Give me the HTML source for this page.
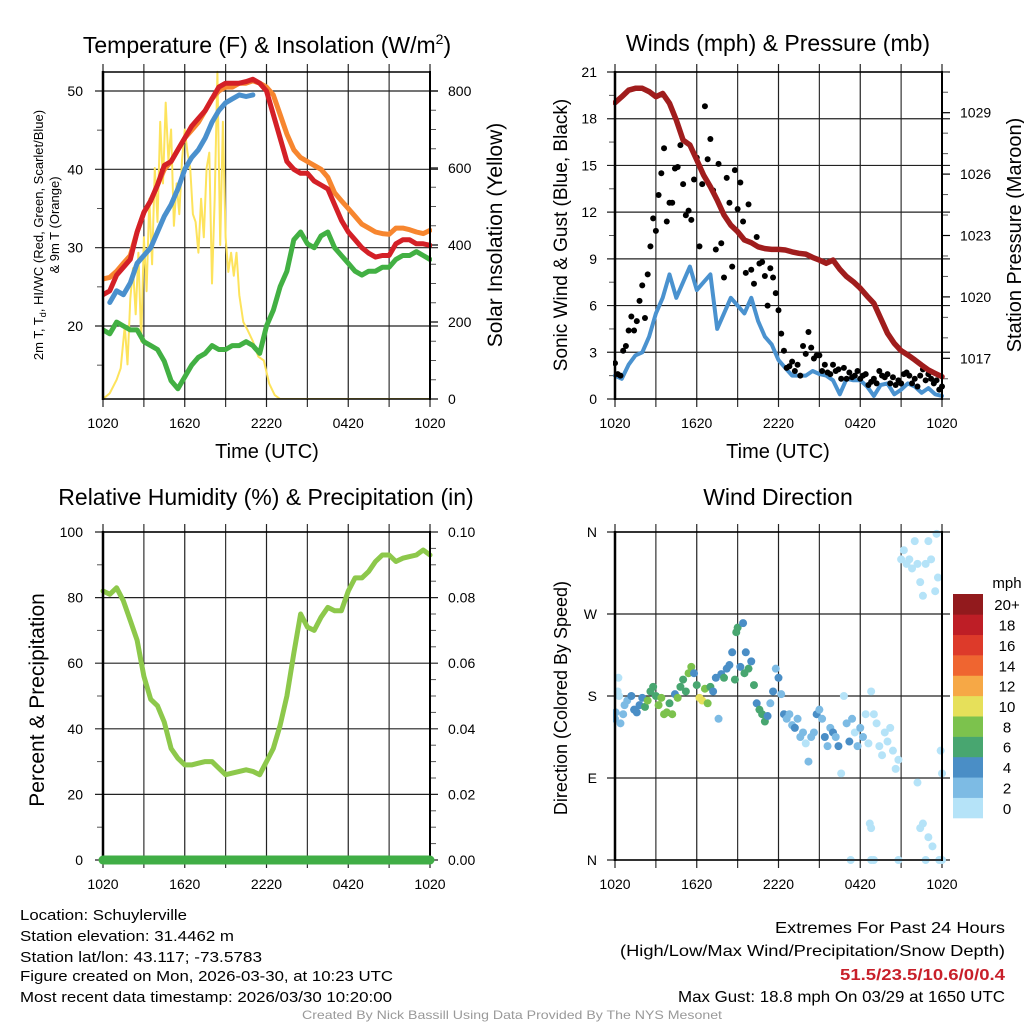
<!DOCTYPE html>
<html><head><meta charset="utf-8"><style>
html,body{margin:0;padding:0;background:#fff;}
svg{display:block;font-family:"Liberation Sans",sans-serif;}
</style></head><body>
<svg id="chart" width="1024" height="1024" viewBox="0 0 1024 1024" xmlns="http://www.w3.org/2000/svg"></svg>
<script>
// ---------- DATA ----------
const halfHours = [0,0.5,1,1.5,2,2.5,3,3.5,4,4.5,5,5.5,6,6.5,7,7.5,8,8.5,9,9.5,10,10.5,11,11.5,12,12.5,13,13.5,14,14.5,15,15.5,16,16.5,17,17.5,18,18.5,19,19.5,20,20.5,21,21.5,22,22.5,23,23.5,24];
const tempRed = [24,24.5,26.5,27.5,28.5,32,34.5,36,38,40.5,41,42.5,44,45.5,46.5,47.5,49,50.5,51,51,51,51.2,51.5,51,50,47,44,41,40,39.5,39.5,38.5,38,37.5,35.5,33.5,32,31,30,29.3,28.8,29,29,30.5,31,31,30.5,30.5,30.3];
const tempOrange = [26,26.2,27,28,29,32,34.5,36,38,40,41,42.5,44,45,46,47.5,49,50,50.5,50.5,51,51,51.3,51,50.5,49.5,47,44.5,42.5,41.5,41,40.5,40,39,37,36,35,34,33,32.5,32,31.8,31.7,32.5,32.5,32.3,32,31.8,32.2];
const tempBlue = [null,23,24.5,24,25.5,28,29,30,32,34,35.5,37.5,40,41.5,42.5,44,46,47.5,48.5,49,49.5,49.3,49.5,null,null,null,null,null,null,null,null,null,null,null,null,null,null,null,null,null,null,null,null,null,null,null,null,null,null];
const dewGreen = [19.5,19,20.5,20,19.5,19.5,18,17.5,17,15.5,13,12,13.5,15,16,16.5,17.5,17,17,17.5,17.5,18,17.5,16.5,20,22,25,27,31,32,30.5,30,31.5,32,30,29,28,27,26.5,27,27,27.5,27.5,28.5,29,29,29.5,29,28.5];
const solarHours = [0,0.5,1,1.3,1.6,1.8,2.0,2.2,2.4,2.6,2.8,3.0,3.2,3.4,3.6,3.8,4.0,4.2,4.4,4.6,4.8,5.0,5.2,5.4,5.6,5.8,6.0,6.2,6.4,6.6,6.8,7.0,7.2,7.4,7.6,7.8,8.0,8.2,8.4,8.6,8.8,9.0,9.2,9.4,9.6,9.8,10.0,10.3,10.6,11.0,11.4,11.8,12.2,12.6,13.0,24];
const solarVals = [0,15,50,80,190,90,260,340,220,380,150,420,280,520,350,600,460,720,560,770,620,700,450,560,480,620,700,640,600,480,460,380,520,420,600,640,300,520,850,400,720,420,330,380,320,380,270,200,180,150,110,100,40,10,0,0];
const pressure = [1029.49,1029.78,1030.1,1030.19,1030.19,1030.03,1029.78,1029.94,1029.46,1028.64,1027.66,1027.42,1026.69,1025.95,1025.38,1024.73,1024.0,1023.51,1023.19,1022.78,1022.65,1022.45,1022.36,1022.32,1022.32,1022.29,1022.2,1022.13,1022.09,1021.93,1021.8,1021.64,1021.8,1021.35,1020.99,1020.74,1020.42,1020.04,1019.68,1018.95,1018.22,1017.73,1017.37,1017.16,1016.92,1016.67,1016.43,1016.26,1016.1];
const windSpeed = [1.5,1.3,2.2,2.8,3.0,4.0,5.5,6.5,8.0,6.5,7.5,8.5,7.0,7.5,8.0,4.5,5.5,6.5,6.0,5.5,6.5,5.0,4.0,3.5,2.5,2.0,1.5,1.5,1.5,1.8,1.6,1.5,1.2,0.3,1.3,1.2,1.2,0.8,0.2,0.9,1.0,0.3,0.6,1.0,0.8,0.4,0.7,0.3,0.2];
const gustVals = [2.3,1.6,1.5,3.1,3.4,4.4,5.3,4.4,5.0,6.3,7.3,5.2,8.0,9.8,11.6,10.8,13.1,14.5,16.1,11.4,12.6,12.6,14.8,14.9,16.3,13.8,11.8,12.1,11.5,14.1,15.5,9.8,13.8,18.8,15.4,16.7,13.4,9.6,15.1,10.0,7.8,14.2,12.6,8.5,14.7,12.2,13.9,11.4,8.1,12.5,8.3,7.4,10.4,8.7,8.8,7.9,6.0,8.4,7.8,6.8,5.7,4.2,3.1,2.0,2.1,2.4,1.8,2.2,1.5,3.4,2.9,4.3,3.3,2.6,2.8,2.8,1.8,2.2,1.7,1.6,2.2,1.8,1.9,1.3,2.0,1.3,1.7,1.4,1.5,1.8,1.3,1.5,1.6,0.9,1.1,1.3,1.0,1.8,1.5,1.4,1.6,1.0,1.4,0.9,1.2,1.0,1.6,1.7,1.5,1.0,1.3,0.8,1.5,1.9,1.2,1.6,1.3,1.0,1.2,0.6,0.8];
const rhVals = [82,81,83,79,73,67,56,49,47,42,34,31,29,29,29.5,30,30,28,26,26.5,27,27.5,27,26,30,34,41,50,63,75,71,70,74,77,76,76,82,86,86,88,91,93,93,91,92,92.5,93,94.5,93];
const precipVals = [0,0,0,0,0,0,0,0,0,0,0,0,0,0,0,0,0,0,0,0,0,0,0,0,0,0,0,0,0,0,0,0,0,0,0,0,0,0,0,0,0,0,0,0,0,0,0,0,0];
const dirHours = [0,0.05,0.2,0.3,0.25,0.4,0.6,0.7,0.9,1.2,1.4,1.6,1.8,2.0,2.2,2.4,2.6,2.8,3.0,3.2,3.4,3.6,3.8,4.0,4.2,4.4,4.6,4.8,5.0,5.2,5.4,5.6,5.8,6.0,6.2,6.4,6.6,6.8,7.0,7.2,7.4,7.6,7.8,8.0,8.2,8.4,8.6,8.8,8.9,9.0,9.2,9.4,9.5,9.6,9.8,10,10.2,10.4,10.6,10.8,11.0,11.2,11.4,11.6,11.8,12.0,12.2,12.4,12.6,12.8,13.0,13.2,13.4,13.6,13.8,14.0,14.2,14.4,14.6,14.8,15.0,15.2,15.4,15.6,15.8,16.0,16.2,16.4,16.6,16.8,17.0,17.2,17.4,17.6,17.8,18.0,18.2,18.4,18.6,18.8,19.0,19.2,19.4,19.6,19.8,20,20.2,20.4,20.6,20.8,21.0,21.2,21.4,21.6,21.8,22.0,22.2,22.4,22.6,22.8,23.0,23.2,23.5,23.6,23.7,23.9,24,18.7,18.8,22.2,22.4,22.6,23.0,23.3,17.3,18.8,19.0,20.8,22.8,23.8,24];
const dirVals = [155,162,185,180,200,150,160,170,175,180,165,162,170,178,168,175,185,190,180,170,178,160,162,172,160,182,178,190,198,185,205,212,205,192,178,175,188,172,190,185,200,155,204,200,210,214,228,198,250,255,212,260,205,228,210,218,192,172,165,160,152,158,172,185,210,200,182,160,155,160,148,145,155,135,140,128,108,135,140,160,165,155,135,125,145,140,135,125,95,180,150,130,155,140,125,145,135,160,128,185,160,150,125,115,140,130,145,120,100,110,330,340,325,330,320,350,325,305,290,325,350,330,295,358,310,120,95,40,35,85,35,40,25,15,0,0,0,0,0,0,0];
const dirSpeeds = [3,3,1.5,1.8,1,3,3,3,3,4,4,4,4,4,6,8,7,6,6,8,9,8,9,7,8,5,8,7,7,7,9,8,5,6,11,10,8,8,6,4,4,3,4,7,5,5,4,6,7,6,5,4,6,5,6,5,6,5,6,7,6,4,3,4,3,4,3,4,3,2,3,4,2,3,2,1,2,2,3,4,3,3,4,2,3,4,3,4,1,1,2,4,3,1,2,3,2,1,1,1,1,1,1,1,1,1,1,1,1,1,1,1,1,1,1,1,1,1,1,1,1,1,1,1,1,1,1,1,1,1,1,1,1,1,1,1,1,1,1,1,1];
const speedBinLabels = ["0","2","4","6","8","10","12","14","16","18","20+"];
const speedBinColors = ["#b5e3f8","#7dbbe4","#4a8ec6","#48a670","#7cc24d","#e6e05a","#f6a846","#ef6530","#dd3a2a","#be1e26","#921a1d"];
const timeTickLabels = ["1020","1620","2220","0420","1020"];
const tempTicks = [20,30,40,50];
const solarTicks = [0,200,400,600,800];
const windTicks = [0,3,6,9,12,15,18,21];
const presTicks = [1017,1020,1023,1026,1029];
const rhTicks = [0,20,40,60,80,100];
const precipTickLabels = ["0.00","0.02","0.04","0.06","0.08","0.10"];
const dirTickLabels = ["N","E","S","W","N"];

// ---------- HELPERS ----------
const NS = "http://www.w3.org/2000/svg";
const svg = document.getElementById("chart");
function mk(tag, attrs, parent) {
  const e = document.createElementNS(NS, tag);
  for (const k in attrs) e.setAttribute(k, attrs[k]);
  (parent || svg).appendChild(e);
  return e;
}
function txt(s, x, y, size, anchor, parent, extra) {
  const t = mk("text", Object.assign({x: x, y: y, "font-size": size, "text-anchor": anchor || "middle", fill: "#000"}, extra || {}), parent);
  t.textContent = s;
  return t;
}
function lin(d0, d1, r0, r1) { return v => r0 + (v - d0) * (r1 - r0) / (d1 - d0); }

function panelFrame(g, P, name) {
  // vertical gridlines every 3h
  for (let h = 0; h <= 24; h += 3) {
    const x = P.x(h);
    const l = mk("line", {x1: x, x2: x, y1: P.T - 8, y2: P.B + 8, stroke: (h % 6 === 0) ? "#222" : "#333", "stroke-width": 1.2}, g);
    
    
  }
  timeTickLabels.forEach((s, i) => {
    const t = txt(s, P.x(i * 6), P.B + 29, 14, "middle", g);
    
    
  });
}
function hgrid(g, P, y, name) {
  const l = mk("line", {x1: P.L - 8, x2: P.R + 8, y1: y, y2: y, stroke: "#222", "stroke-width": 1.2}, g);
  
  
}
function axes(g, P, name) {
  const a = mk("line", {x1: P.L, x2: P.L, y1: P.T - 1, y2: P.B + 1, stroke: "#000", "stroke-width": 2.5}, g);
  
  
  const b = mk("line", {x1: P.R, x2: P.R, y1: P.T - 1, y2: P.B + 1, stroke: "#000", "stroke-width": 2}, g);
  
  
  const c = mk("line", {x1: P.L, x2: P.R, y1: P.T, y2: P.T, stroke: "#000", "stroke-width": 1.5}, g);
  
  
  const d = mk("line", {x1: P.L, x2: P.R, y1: P.B, y2: P.B, stroke: "#000", "stroke-width": 1.5}, g);
  
  
}
function minorTicks(g, P, yFn, vals, side) {
  vals.forEach(v => {
    const y = yFn(v);
    const x0 = side === "L" ? P.L - 6 : P.R;
    const l = mk("line", {x1: x0, x2: x0 + 6, y1: y, y2: y, stroke: "#555", "stroke-width": 1}, g);
    
    
  });
}
function pathFrom(xs, ys, xFn, yFn) {
  let d = "", pen = false;
  for (let i = 0; i < xs.length; i++) {
    if (ys[i] === null || ys[i] === undefined) { pen = false; continue; }
    d += (pen ? "L" : "M") + xFn(xs[i]).toFixed(1) + " " + yFn(ys[i]).toFixed(1) + " ";
    pen = true;
  }
  return d;
}
function series(g, xs, ys, xFn, yFn, color, w, name) {
  const p = mk("path", {d: pathFrom(xs, ys, xFn, yFn), fill: "none", stroke: color, "stroke-width": w, "stroke-linejoin": "round", "stroke-linecap": "round"}, g);
  
  
  return p;
}
function rotLabel(g, s, x, y, size, name) {
  const t = txt(s, x, y, size, "middle", g, {transform: "rotate(-90 " + x + " " + y + ")"});
  
  
  return t;
}
function title(g, s, x, y, name) {
  const t = txt(s, x, y, 23, "middle", g);
  
  
  return t;
}

// ---------- PANEL 1 : Temperature ----------
(function () {
  const g = mk("g", {});
  
  
  const P = {L: 103, R: 430, T: 72, B: 399};
  P.x = lin(0, 24, P.L, P.R);
  const yT = lin(20, 50, 326, 91);
  const yS = lin(0, 800, 399, 91);
  panelFrame(g, P, "temp");
  tempTicks.forEach(v => {
    hgrid(g, P, yT(v), "temp-hgrid");
    const t = txt(String(v), P.L - 20, yT(v) + 5, 14, "end", g);
    
    
  });
  solarTicks.forEach(v => {
    const t = txt(String(v), P.R + 18, yS(v) + 5, 14, "start", g);
    
    
    const l = mk("line", {x1: P.R, x2: P.R + 8, y1: yS(v), y2: yS(v), stroke: "#000", "stroke-width": 1.2}, g);
    
    
  });
  minorTicks(g, P, yT, [15, 25, 35, 45], "L");
  minorTicks(g, P, yS, [50,100,150,250,300,350,450,500,550,650,700,750], "R");
  const c = mk("clipPath", {id: "clip1"}, g);
  mk("rect", {x: P.L, y: P.T - 4, width: P.R - P.L + 2, height: P.B - P.T + 4}, c);
  const s = mk("g", {"clip-path": "url(#clip1)"}, g);
  series(s, solarHours, solarVals, P.x, yS, "#fde35c", 2, "solar-insolation-line");
  series(s, halfHours, dewGreen, P.x, yT, "#42b043", 5, "dewpoint-line");
  series(s, halfHours, tempOrange, P.x, yT, "#f7862f", 5, "temp-9m-line");
  series(s, halfHours, tempRed, P.x, yT, "#d42027", 5, "temp-2m-line");
  series(s, halfHours, tempBlue, P.x, yT, "#4a90cd", 5, "windchill-line");
  axes(g, P, "temp");
  const t1 = title(g, "", 267, 53, "temperature-title");
  t1.textContent = "Temperature (F) & Insolation (W/m";
  const sup = mk("tspan", {"font-size": 14, dy: -9}, t1); sup.textContent = "2";
  const sp2 = mk("tspan", {dy: 9}, t1); sp2.textContent = ")";
  const xl = txt("Time (UTC)", 267, 458, 20, "middle", g);
  
  
  const yl = txt("", 43, 235, 13, "middle", g, {transform: "rotate(-90 43 235)"});
  
  
  yl.textContent = "2m T, T";
  const sub = mk("tspan", {"font-size": 9, dy: 3}, yl); sub.textContent = "d";
  const rest = mk("tspan", {dy: -3}, yl); rest.textContent = ", HI/WC (Red, Green, Scarlet/Blue)";
  const yl2 = rotLabel(g, "& 9m T (Orange)", 59, 225, 13, "temp-y-axis-title-line2");
  rotLabel(g, "Solar Insolation (Yellow)", 502, 235, 21, "solar-y-axis-title");
})();

// ---------- PANEL 2 : Winds ----------
(function () {
  const g = mk("g", {});
  
  
  const P = {L: 615, R: 942, T: 72, B: 399};
  P.x = lin(0, 24, P.L, P.R);
  const yW = lin(0, 21, P.B, P.T);
  const yP = lin(1017, 1029, 358.3, 112.7);
  panelFrame(g, P, "wind");
  windTicks.forEach(v => {
    hgrid(g, P, yW(v), "wind-hgrid");
    const t = txt(String(v), P.L - 18, yW(v) + 5, 14, "end", g);
    
    
  });
  presTicks.forEach(v => {
    const t = txt(String(v), P.R + 18, yP(v) + 5, 14, "start", g);
    
    
    const l = mk("line", {x1: P.R, x2: P.R + 8, y1: yP(v), y2: yP(v), stroke: "#000", "stroke-width": 1.2}, g);
    
    
  });
  minorTicks(g, P, yW, [1.5,4.5,7.5,10.5,13.5,16.5,19.5], "L");
  minorTicks(g, P, yP, [1016,1018,1019,1021,1022,1024,1025,1027,1028,1030,1031], "R");
  const c = mk("clipPath", {id: "clip2"}, g);
  mk("rect", {x: P.L - 2, y: P.T - 4, width: P.R - P.L + 6, height: P.B - P.T + 6}, c);
  const s = mk("g", {"clip-path": "url(#clip2)"}, g);
  series(s, halfHours, windSpeed, P.x, yW, "#4a92cf", 4, "sonic-wind-line");
  gustVals.forEach((v, i) => {
    const d = mk("circle", {cx: P.x(i * 0.2), cy: yW(v), r: 3, fill: "#000"}, s);
    
    
  });
  series(s, halfHours, pressure, P.x, yP, "#a01d1d", 5.5, "pressure-line");
  axes(g, P, "wind");
  title(g, "Winds (mph) & Pressure (mb)", 778, 51, "winds-title");
  const xl = txt("Time (UTC)", 778, 458, 20, "middle", g);
  
  
  rotLabel(g, "Sonic Wind & Gust (Blue, Black)", 567, 235, 19, "wind-y-axis-title");
  rotLabel(g, "Station Pressure (Maroon)", 1021, 235, 20, "pressure-y-axis-title");
})();

// ---------- PANEL 3 : RH ----------
(function () {
  const g = mk("g", {});
  
  
  const P = {L: 103, R: 430, T: 532, B: 860};
  P.x = lin(0, 24, P.L, P.R);
  const yR = lin(0, 100, P.B, P.T);
  const yPr = lin(0, 0.1, P.B, P.T);
  panelFrame(g, P, "rh");
  rhTicks.forEach((v, i) => {
    hgrid(g, P, yR(v), "rh-hgrid");
    const t = txt(String(v), P.L - 20, yR(v) + 5, 14, "end", g);
    
    
    const t2 = txt(precipTickLabels[i], P.R + 18, yR(v) + 5, 14, "start", g);
    
    
  });
  minorTicks(g, P, yR, [10,30,50,70,90], "L");
  minorTicks(g, P, yR, [5,10,15,25,30,35,45,50,55,65,70,75,85,90,95], "R");
  series(g, halfHours, rhVals, P.x, yR, "#8dc84b", 5, "relative-humidity-line");
  axes(g, P, "rh");
  series(g, halfHours, precipVals, P.x, yPr, "#40ae46", 9, "precipitation-line");
  title(g, "Relative Humidity (%) & Precipitation (in)", 266, 505, "humidity-title");
  rotLabel(g, "Percent & Precipitation", 44, 700, 21, "rh-y-axis-title");
})();

// ---------- PANEL 4 : Wind Direction ----------
(function () {
  const g = mk("g", {});
  
  
  const P = {L: 615, R: 942, T: 532, B: 860};
  P.x = lin(0, 24, P.L, P.R);
  const yD = lin(0, 360, P.B, P.T);
  panelFrame(g, P, "dir");
  dirTickLabels.forEach((s, i) => {
    hgrid(g, P, yD(i * 90), "dir-hgrid");
    const t = txt(s, P.L - 18, yD(i * 90) + 5, 14, "end", g);
    
    
  });
  const c = mk("clipPath", {id: "clip4"}, g);
  mk("rect", {x: P.L - 2, y: P.T - 5, width: P.R - P.L + 7, height: P.B - P.T + 10}, c);
  const s = mk("g", {"clip-path": "url(#clip4)"}, g);
  dirHours.forEach((h, i) => {
    const bin = Math.min(10, Math.floor(dirSpeeds[i] / 2));
    const d = mk("circle", {cx: P.x(h), cy: yD(dirVals[i]), r: 4, fill: speedBinColors[bin]}, s);
    
    
  });
  axes(g, P, "dir");
  title(g, "Wind Direction", 778, 505, "wind-direction-title");
  rotLabel(g, "Direction (Colored By Speed)", 567, 698, 18, "dir-y-axis-title");
  // colorbar
  const cb = mk("g", {}, g);
  
  
  const segH = (818 - 594) / 11;
  speedBinColors.forEach((col, i) => {
    const y = 818 - (i + 1) * segH;
    const r = mk("rect", {x: 953, y: y, width: 30, height: segH + 0.3, fill: col}, cb);
    
    
    const t = txt(speedBinLabels[i], 1007, y + segH / 2 + 6, 15, "middle", cb);
    
    
  });
  const m = txt("mph", 1007, 588, 15, "middle", cb);
  
  
})();

// ---------- FOOTER ----------
(function () {
  const g = mk("g", {});
  
  
  const left = [["Location: Schuylerville", 920, 167], ["Station elevation: 31.4462 m", 941, 214], ["Station lat/lon: 43.117; -73.5783", 962, 242], ["Figure created on Mon, 2026-03-30, at 10:23 UTC", 981, 373], ["Most recent data timestamp: 2026/03/30 10:20:00", 1002, 372]];
  left.forEach(a => {
    const t = txt(a[0], 20, a[1], 15, "start", g, {textLength: a[2], lengthAdjust: "spacingAndGlyphs"});
    
    
  });
  const right = [["Extremes For Past 24 Hours", 933, 230, "#000", "normal"], ["(High/Low/Max Wind/Precipitation/Snow Depth)", 956, 385, "#000", "normal"], ["51.5/23.5/10.6/0/0.4", 980, 165, "#c8202a", "bold"], ["Max Gust: 18.8 mph On 03/29 at 1650 UTC", 1002, 327, "#000", "normal"]];
  right.forEach(a => {
    const t = txt(a[0], 1005 - a[2], a[1], 16, "start", g, {textLength: a[2], lengthAdjust: "spacingAndGlyphs", fill: a[3], "font-weight": a[4]});
    
    
  });
  const cr = txt("Created By Nick Bassill Using Data Provided By The NYS Mesonet", 302, 1019, 12, "start", g, {textLength: 420, lengthAdjust: "spacingAndGlyphs", fill: "#999"});
  
  
})();
</script>
</body></html>
